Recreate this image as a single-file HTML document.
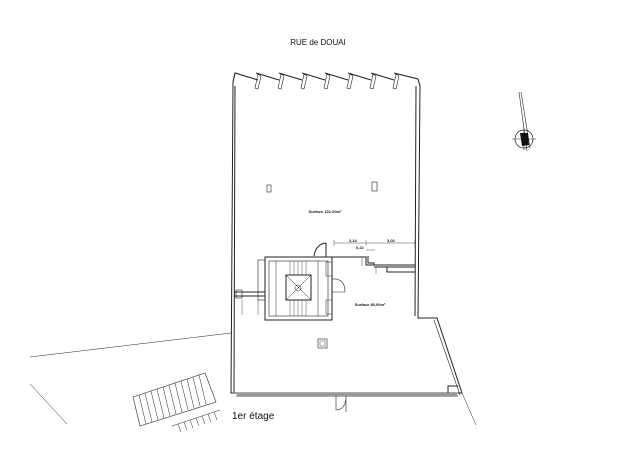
<!DOCTYPE html>
<html><head><style>body{margin:0;background:#fff}svg{display:block}</style></head><body>
<svg width="640" height="476" viewBox="0 0 640 476" xmlns="http://www.w3.org/2000/svg" font-family="Liberation Sans, sans-serif">
<rect width="640" height="476" fill="#fff"/>
<text x="318" y="45" font-size="8" text-anchor="middle" fill="#111">RUE de DOUAI</text>
<g fill="none" stroke="#222" stroke-width="1">
<path d="M233,82 L235,73 L258,80 M256,73 L279,80 M279,73 L302,80 M302,73 L325,80 M325,73 L348,80 M348,73 L371,80 M371,73 L394,80 M394,73 L418,79 L420,86" stroke-width="1.1"/>
<path d="M258,74 L255,88 L258,89 L261,76 Z M281,74 L278,88 L281,89 L284,76 Z M304,74 L301,88 L304,89 L307,76 Z M327,74 L324,88 L327,89 L330,76 Z M350,74 L347,88 L350,89 L353,76 Z M373,74 L370,88 L373,89 L376,76 Z M396,74 L393,88 L396,89 L399,76 Z" stroke-width="0.6"/>
<path d="M233,82 L231,393 L236,393 M235,86 L234,392"/>
<path d="M420,86 L418,318 L437,318 L462,393 L458,393 M416,86 L415,316"/>
<path d="M434,320 L460,395" stroke-width="0.6"/>
<path d="M236,393 L458,393 M236,396 L458,396" stroke-width="0.7"/>
<rect x="237" y="393" width="220" height="3" fill="#999" stroke="none"/>
<path d="M458,386 L448,386 L448,393"/>
<rect x="265" y="257" width="67" height="63"/>
<rect x="269" y="261" width="59" height="55" stroke-width="0.6"/>
<rect x="286" y="275" width="25" height="25"/>
<path d="M286,275 L311,300 M311,275 L286,300 M276,261 L276,316 M318,261 L318,316" stroke-width="0.5"/>
<path d="M290,261v14 M294,261v14 M298,261v14 M302,261v14 M306,261v14 M290,300v16 M294,300v16 M298,300v16 M302,300v16 M306,300v16" stroke-width="0.4"/>
<circle cx="298" cy="288" r="3" stroke-width="0.5"/>
<rect x="258" y="260" width="7" height="40" stroke-width="0.6"/>
<path d="M234,292 L265,292 M234,296 L265,296" />
<rect x="236" y="290" width="6" height="8" stroke-width="0.6"/>
<path d="M314,256 Q316,244 326,243 M326,243 L326,257"/>
<path d="M332,279 Q345,278 345,292 M332,292 L345,292" stroke-width="0.6"/>
<rect x="326" y="262" width="6" height="14" stroke-width="0.5"/>
<rect x="326" y="300" width="6" height="14" stroke-width="0.5"/>
<path d="M332,257 L366,257 L366,265 L374,265 L374,263 L368,263 L368,256 M374,265 L415,265 M374,267 L415,267" />
<path d="M387,267 L387,272 L415,272"/>
<path d="M334,243 L415,243 M334,240 L334,246 M366,240 L366,246 M415,240 L415,246 M366,250 L375,250" stroke-width="0.4"/>
<path d="M242,300 L242,315 M258,300 L258,315 M362,257 L362,266 M376,267 L376,274" stroke-width="0.4"/>
<rect x="267" y="185" width="4" height="7" stroke-width="0.6"/>
<rect x="372" y="182" width="5" height="9" stroke-width="0.6"/>
<rect x="318" y="339" width="9" height="9" stroke-width="0.6"/>
<rect x="320" y="341" width="5" height="5" stroke-width="0.4"/>
<path d="M336,396 L336,410 Q345,410 346,398 M346,396 L346,412" stroke-width="0.6"/>
<path d="M30,357 L231,333 M30,384 L67,424 M462,393 L476,425" stroke-width="0.5"/>
<path d="M133,397 L205,373 L216,402 L140,426 Z" stroke-width="0.6"/>
<path d="M139,395 L146,424 M145,393 L152,422 M151,391 L158,420 M157,389 L164,418 M163,387 L170,416 M169,385 L176,414 M175,383 L182,412 M181,381 L188,410 M187,379 L194,408 M193,377 L200,406 M199,375 L206,404 M172,426 L220,410 M178,424 L181,432 M184,422 L187,430 M190,420 L193,428 M196,418 L199,426 M202,416 L205,424 M208,414 L211,422 M214,412 L217,420" stroke-width="0.5"/>
<circle cx="524" cy="139" r="9" stroke-width="0.7"/>
<path d="M519,92 L527,151 M521,92 L530,148 M512,139 L536,139 M524,128 L524,150" stroke-width="0.6"/>
</g>
<path d="M520,133 L528,133 L529,145 L522,146 Z" fill="#111"/>
<g font-size="4" fill="#111" font-weight="bold">
<text x="325" y="213" text-anchor="middle">Surface 131,00m²</text>
<text x="370" y="306" text-anchor="middle">Surface 80,00m²</text>
<text x="349" y="242">2,14</text><text x="387" y="242">3,02</text><text x="356" y="249">0,22</text>
</g>
<text x="232" y="419" font-size="10" fill="#111">1er étage</text>
</svg>
</body></html>
